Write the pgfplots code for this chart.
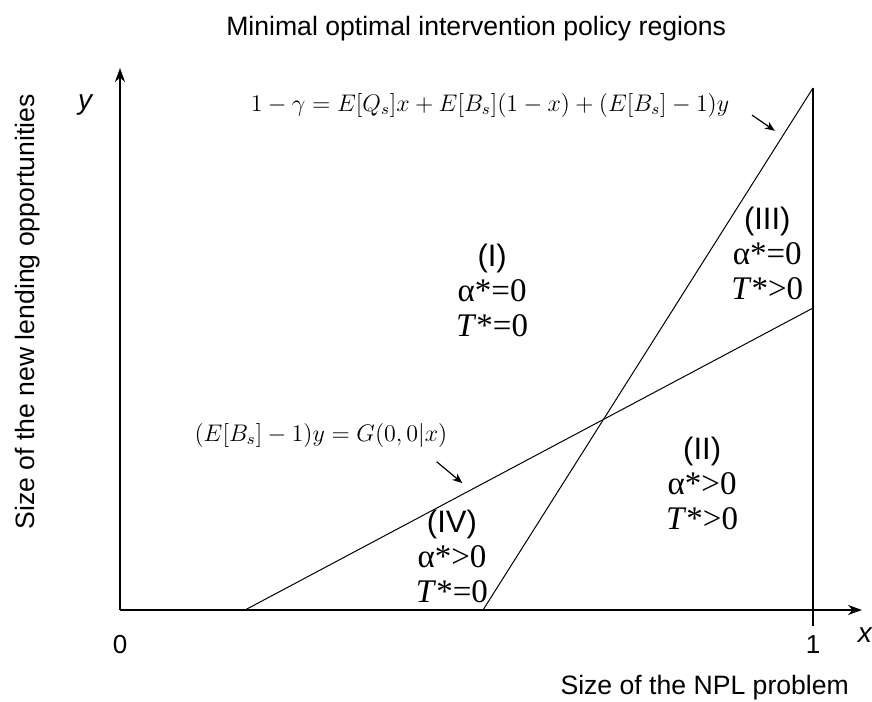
\documentclass[border=0pt]{standalone}
\usepackage{pgfplots}
\pgfplotsset{compat=1.18}
\usetikzlibrary{arrows.meta}
\usepackage{fontspec}
\newfontfamily\arial{Liberation Sans}
\newfontfamily\tnr{Liberation Serif}
\begin{document}
\begin{tikzpicture}
\useasboundingbox (-60pt,-45.5pt) rectangle (376pt,305pt);
\begin{axis}[
  scale only axis, width=371pt, height=271pt,
  xmin=0, xmax=1.0707, ymin=0, ymax=1.0383,
  axis lines=left,
  axis line style={line width=0.9pt, -{Stealth[length=7pt,width=5pt]}},
  xtick={0,1}, xticklabels={0,1}, ytick=\empty,
  major tick length=0pt,
  xticklabel style={font=\arial\fontsize{13}{15}\selectfont, anchor=center, yshift=-17.5pt},
  clip=false,
  title={Minimal optimal intervention policy regions},
  title style={at={(axis description cs:0.48,1.050)}, anchor=center, yshift=0pt, font=\arial\fontsize{13.3}{15}\selectfont},
  xlabel={Size of the NPL problem},
  xlabel style={at={(axis description cs:0.788,-0.144)}, anchor=center, font=\arial\fontsize{13.3}{15}\selectfont},
  ylabel={Size of the new lending opportunities},
  ylabel style={at={(axis description cs:-0.124,0.55)}, anchor=center, font=\arial\fontsize{13.3}{15}\selectfont},
]
\addplot[line width=0.5pt, black] coordinates {(0.5238,0) (1,1)};
\addplot[line width=0.5pt, black] coordinates {(0.1804,0) (1,0.5785)};
\addplot[line width=1pt, black] coordinates {(1,-0.03) (1,1)};

\node[font=\arial\itshape\fontsize{14}{16}\selectfont] at (axis cs:1.075,-0.048) {x};
\node[font=\arial\itshape\fontsize{14}{16}\selectfont] at (axis cs:-0.0505,0.967) {y};

\node[font=\fontsize{12}{14}\selectfont] at (axis cs:0.534,0.967) {$1-\gamma = E[Q_s]x + E[B_s](1-x) + (E[B_s]-1)y$};
\node[font=\fontsize{12}{14}\selectfont] at (axis cs:0.290,0.335) {$(E[B_s]-1)y = G(0,0|x)$};

\draw[line width=0.6pt, -{Stealth[length=5pt,width=4pt]}] (axis cs:0.912,0.948) -- (axis cs:0.945,0.918);
\draw[line width=0.6pt, -{Stealth[length=5pt,width=4pt]}] (axis cs:0.457,0.284) -- (axis cs:0.494,0.243);

\node[font=\tnr\fontsize{16.5}{17.5}\selectfont, align=center] at (axis cs:0.537,0.613) {{\arial\fontsize{15.5}{17.5}\selectfont (I)}\\α*=0\\\textit{T}*=0};
\node[font=\tnr\fontsize{16.5}{17.5}\selectfont, align=center] at (axis cs:0.934,0.684) {{\arial\fontsize{15.5}{17.5}\selectfont (III)}\\α*=0\\\textit{T}*>0};
\node[font=\tnr\fontsize{16.5}{17.5}\selectfont, align=center] at (axis cs:0.840,0.243) {{\arial\fontsize{15.5}{17.5}\selectfont (II)}\\α*>0\\\textit{T}*>0};
\node[font=\tnr\fontsize{16.5}{17.5}\selectfont, align=center] at (axis cs:0.479,0.102) {{\arial\fontsize{15.5}{17.5}\selectfont (IV)}\\α*>0\\\textit{T}*=0};
\end{axis}
\end{tikzpicture}
\end{document}
